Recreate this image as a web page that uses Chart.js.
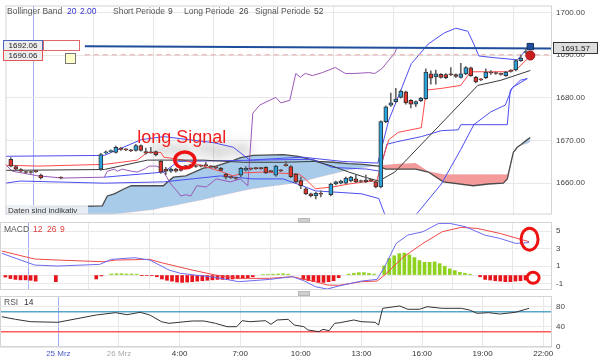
<!DOCTYPE html>
<html>
<head>
<meta charset="utf-8">
<script src="https://cdn.jsdelivr.net/npm/chart.js@4.4.0/dist/chart.umd.min.js"></script>
<style>
body { margin: 0; background: #fff; }
#wrap { position: relative; width: 600px; height: 360px; overflow: hidden; }
canvas { position: absolute; left: 0; }
.grip { position: absolute; left: 298px; width: 10px; height: 3px; background: #cfcfcf; border: 1px solid #b8b8b8; }
</style>
</head>
<body>
<div id="wrap">
  <canvas id="priceChart" width="600" height="220" style="top:0"></canvas>
  <canvas id="macdChart" width="600" height="76" style="top:218px"></canvas>
  <canvas id="rsiChart" width="600" height="68" style="top:292px"></canvas>
  <div class="grip" style="top:218px"></div>
  <div class="grip" style="top:291px"></div>
</div>
<script>
Chart.defaults.font.family = '"Liberation Sans", Arial, sans-serif';
Chart.defaults.animation = false;

// x axis: position in 15-minute bars
const xMin = 0.44, xMax = 109.74;
const tickPos = [12, 24, 36, 48, 60, 72, 84, 96, 108];
const tickLabels = ['25 Mrz', '26 Mrz', '4:00', '7:00', '10:00', '13:00', '16:00', '19:00', '22:00'];
const tickColors = ['#4a5cc8', '#aaaaaa', '#333', '#333', '#333', '#333', '#333', '#333', '#333'];

// candles
const candleIdx = [1,2,3,4,5,6,7,11,19,20,21,22,23,24,25,26,27,28,29,30,31,32,33,34,35,36,37,38,39,40,41,42,43,44,45,46,47,48,49,50,51,52,53,54,55,56,57,58,59,60,61,62,63,65,66,67,68,69,70,71,72,73,74,75,76,77,78,79,80,81,82,83,84,85,86,87,88,89,90,91,92,93,94,95,96,97,98,99,100,101,102,103,104];
const openV  = [1665.6,1663.9,1663.2,1662.7,1662.6,1662.8,1661.9,1661.3,1663.3,1667.1,1667.4,1667.2,1668.2,1667.9,1667.7,1667.7,1668.8,1667.4,1667.2,1667.4,1665.1,1663.3,1662.8,1663.3,1663.1,1664.0,1664.2,1664.0,1664.1,1664.2,1663.9,1663.7,1663.5,1662.1,1661.4,1661.2,1661.9,1663.05,1663.4,1663.5,1663.5,1663.7,1662.8,1661.9,1663.0,1664.2,1663.9,1662.1,1660.6,1658.7,1657.5,1657.0,1657.5,1657.3,1659.8,1660.0,1660.0,1660.5,1661.0,1660.5,1660.7,1660.7,1660.3,1659.1,1674.4,1678.3,1679.1,1680.1,1681.4,1679.4,1678.5,1679.3,1679.8,1685.6,1684.9,1685.5,1685.45,1685.5,1685.45,1684.8,1685.6,1687.0,1684.8,1684.3,1684.7,1685.9,1685.8,1685.6,1685.2,1686.3,1686.5,1688.7,1690.6];
const closeV = [1664.0,1663.3,1662.8,1662.5,1662.5,1662.7,1661.2,1661.2,1666.7,1667.3,1667.5,1668.4,1667.9,1667.8,1667.6,1668.8,1667.7,1667.0,1667.1,1666.7,1662.6,1662.8,1663.3,1662.8,1663.0,1663.9,1664.1,1663.9,1664.0,1664.1,1663.8,1663.6,1663.0,1661.4,1661.3,1661.1,1663.5,1663.5,1663.3,1663.4,1663.4,1662.4,1662.7,1664.0,1662.9,1664.1,1661.5,1660.3,1659.4,1657.5,1657.0,1657.7,1657.4,1659.8,1660.3,1660.5,1661.2,1661.4,1660.3,1660.4,1660.3,1660.6,1659.1,1674.4,1677.9,1678.8,1679.7,1681.6,1678.8,1678.5,1679.1,1679.9,1686.0,1684.6,1685.6,1684.8,1684.7,1685.4,1685.0,1685.6,1687.1,1685.2,1683.7,1684.2,1686.0,1685.8,1685.7,1685.5,1686.0,1686.2,1688.7,1689.3,1690.7];
const highV  = [1666.0,1664.2,1663.4,1662.9,1662.8,1663.0,1662.1,1661.5,1667.0,1667.6,1667.8,1668.7,1668.4,1668.1,1667.9,1669.1,1669.0,1668.2,1668.4,1667.6,1665.4,1663.7,1663.6,1663.5,1663.3,1664.2,1664.4,1664.3,1664.3,1664.9,1664.1,1663.9,1663.7,1662.3,1661.7,1661.4,1663.7,1663.9,1663.6,1663.7,1663.7,1663.9,1663.0,1664.2,1663.2,1665.1,1664.1,1662.3,1661.4,1659.0,1657.7,1657.9,1658.2,1660.0,1660.5,1660.7,1661.4,1661.6,1661.9,1660.7,1661.9,1660.9,1660.5,1674.6,1678.1,1681.1,1682.2,1681.8,1681.6,1679.6,1679.3,1680.1,1686.8,1686.3,1686.5,1685.7,1685.7,1687.1,1685.6,1688.1,1687.3,1687.2,1685.0,1684.5,1686.8,1686.4,1686.0,1685.8,1686.2,1686.6,1688.9,1690.0,1691.4];
const lowV   = [1663.8,1663.0,1662.6,1662.3,1662.3,1662.5,1661.0,1661.0,1663.0,1666.9,1667.2,1667.0,1667.7,1667.6,1667.4,1667.5,1667.5,1666.8,1667.0,1666.4,1662.3,1662.0,1662.5,1662.6,1662.8,1663.8,1664.0,1663.7,1663.8,1664.0,1663.6,1663.4,1662.9,1661.0,1661.1,1660.9,1661.5,1662.8,1663.1,1663.2,1663.2,1662.2,1662.5,1661.6,1662.7,1664.0,1661.3,1660.0,1658.7,1657.3,1656.8,1656.3,1656.8,1657.0,1659.6,1659.8,1659.8,1660.3,1660.1,1660.2,1660.1,1660.4,1658.9,1658.9,1674.2,1678.0,1678.9,1679.9,1678.5,1677.6,1677.9,1679.1,1679.6,1683.2,1683.2,1684.6,1684.5,1685.2,1684.8,1684.6,1685.4,1685.0,1683.5,1684.0,1684.5,1685.5,1685.5,1685.3,1685.0,1686.0,1686.3,1688.5,1690.4];

// Bollinger band 20 / 2.00
const upperX = [0.4,20.2,27.6,32.1,42.0,46.0,49.3,59.8,67.8,74.9,77.1,78.7,81.6,85.0,88.2,90.5,92.9,94.1,95.1,98.1,102.8,104.4];
const upperV = [1666.3,1666.5,1670.2,1670.9,1669.5,1668.4,1665.4,1666.1,1665.1,1664.7,1674.8,1679.4,1688.0,1692.6,1695.2,1696.3,1695.6,1692.6,1689.8,1689.4,1688.9,1691.0];
const lowerX = [0.4,3.4,20.2,32.1,43.4,49.9,55.9,59.8,62.4,71.7,75.1,76.3,78.5,80.5,82.6,87.6,91.5,94.1,97.5,100.4,101.8,104.8];
const lowerV = [1660.0,1660.5,1660.0,1660.3,1661.7,1661.0,1661.0,1659.4,1658.2,1657.5,1656.4,1652.7,1646.0,1646.5,1652.7,1659.8,1667.9,1673.7,1676.7,1678.3,1682.4,1684.5];
const stepX = [20.2,32.1,35.0,61.8,65.8,72.7,75.3,76.7,78.7,83.6,87.6,91.0,91.5,100.8,101.4,103.4,104.8];
const stepV = [1661.4,1662.6,1665.1,1665.6,1663.7,1663.3,1662.8,1669.1,1669.7,1670.9,1672.3,1672.5,1673.7,1673.7,1681.8,1684.1,1684.5];

// Ichimoku lines (short 9, long 26, signal 52)
const tenkanX = [0.4,7.0,20.2,23.6,26.8,28.8,31.5,32.1,36.1,40.0,43.4,46.0,48.0,51.9,59.2,60.4,62.4,65.8,69.1,72.3,74.7,75.7,77.1,79.0,83.6,84.6,87.6,91.5,92.9,93.5,100.8,102.8,104.8];
const tenkanV = [1664.2,1664.0,1664.4,1664.9,1665.4,1667.2,1667.2,1666.1,1665.4,1664.0,1662.8,1661.7,1662.4,1662.6,1662.1,1661.0,1658.7,1659.1,1659.8,1660.3,1660.5,1664.9,1670.2,1671.9,1673.0,1681.8,1682.2,1682.9,1685.2,1686.1,1686.1,1686.8,1689.1];
const kijunX = [0.4,20.2,28.8,40.0,48.0,55.9,62.4,65.8,69.1,72.3,75.1,78.3,94.9,99.5,105.4];
const kijunV = [1663.0,1663.2,1665.4,1665.4,1664.9,1664.9,1665.1,1664.0,1662.6,1661.4,1660.5,1662.6,1682.9,1684.1,1686.4];
const lagX = [0.4,1.8,7.0,11.9,20.2,20.8,22.2,22.8,23.8,25.6,26.8,28.2,29.2,30.7,31.7,32.7,33.5,34.7,35.5,36.5,37.5,38.7,40.6,42.6,45.4,47.4,48.9,49.3,49.9,51.3,54.5,55.5,57.3,58.5,59.4,60.4,61.8,63.8,66.4,68.4,70.3,73.1,74.3,75.7,78.3,78.7];
const lagV = [1664.4,1662.8,1661.7,1661.2,1661.4,1662.8,1663.3,1662.8,1663.3,1662.8,1662.6,1663.3,1664.0,1664.0,1663.3,1661.4,1659.8,1658.2,1657.0,1657.3,1657.0,1659.4,1659.1,1661.0,1660.3,1661.0,1659.4,1666.3,1676.4,1678.3,1680.1,1678.8,1679.4,1685.7,1684.8,1685.7,1685.2,1685.9,1687.1,1685.7,1685.7,1685.9,1685.7,1686.8,1690.5,1691.7];
const cloudX = [5.5,19.8,20.8,22.2,24.2,25.6,30,32,34,36.5,40,42.5,45.5,47.5,50,56,59,63,66,69,72,75,76.5,79.5,82.5,85,88,94,97,100,100.8,102,102.8,103.5,104.8,105.4];
const spanA = [1654.3,1654.7,1657.0,1657.5,1658.7,1659.4,1659.4,1659.4,1661.4,1661.7,1663.5,1664.0,1665.1,1666.0,1666.5,1666.7,1666.3,1665.1,1664.9,1664.6,1664.4,1664.0,1663.3,1663.3,1663.3,1662.6,1660.3,1659.4,1659.8,1660.0,1661.0,1667.2,1668.4,1669.0,1670.2,1670.7];
const spanB = [1650.0,1651.3,1651.8,1652.7,1653.0,1653.2,1653.8,1654.3,1654.7,1655.3,1656.1,1656.8,1657.6,1658.1,1658.7,1659.6,1660.1,1661.3,1662.2,1663.0,1663.6,1664.1,1664.3,1664.6,1664.7,1662.8,1662.1,1662.1,1662.1,1662.1,1662.1,1667.4,1668.5,1668.8,1669.3,1669.7];

// price levels
const trendX = [16.3, xMax];
const trendV = [1692.06, 1691.57];
const levelX = [16.3, xMax];
const levelV = [1690.06, 1690.06];
const lastX = 105.4, lastTop = 1692.0, lastBottom = 1689.9;
const signalText = [26.8, 1669.3];
const signalRing = [36.3, 1665.4];

// MACD 12 26 9
const macdX = [0.8,7.3,11.9,20.2,22.5,27.1,30.1,33.9,36.2,43.1,47.7,53.8,58.3,60.6,62.9,65.2,67.5,72.0,75.1,76.6,78.9,81.2,84.2,87.3,89.5,92.6,96.4,99.4,102.5,105.2];
const macdV = [2.48,1.14,1.03,1.22,1.79,1.98,1.71,0.57,0.19,-0.27,-0.76,-0.5,-0.19,-0.65,-1.33,-1.6,-1.26,-0.69,-0.5,0.95,3.62,4.57,4.95,5.9,5.9,5.52,4.57,4.19,3.62,3.7];
const sigX = [0.8,7.3,11.9,21.0,23.3,30.1,32.4,38.5,43.1,47.7,53.8,58.3,62.9,65.2,67.5,72.0,75.1,76.6,80.4,84.2,88.0,91.8,94.9,99.4,105.2];
const sigV = [2.74,1.83,1.71,1.52,1.71,1.79,1.41,0.57,0,-0.38,-0.38,-0.19,-0.76,-1.14,-1.18,-0.76,-0.69,0,2.1,3.62,4.95,5.45,5.33,4.76,3.81];
const histIdx = [1,2,3,4,5,6,7,11,19,20,22,23,24,25,26,27,28,29,30,31,32,33,34,35,36,37,38,39,40,41,42,43,44,45,46,47,48,49,50,52,53,54,55,56,57,60,61,62,63,64,65,66,67,69,70,71,72,73,74,76,77,78,79,80,81,82,83,84,85,86,87,88,89,90,91,92,93,95,96,97,98,99,100,101,102,103,104];
const histV = [-0.23,-0.4,-0.5,-0.55,-0.55,-0.6,-0.7,-0.76,-0.45,-0.1,0.12,0.15,0.15,0.12,0.12,0.1,-0.04,-0.05,-0.08,-0.2,-0.45,-0.6,-0.7,-0.8,-0.84,-0.8,-0.76,-0.7,-0.65,-0.6,-0.55,-0.5,-0.5,-0.5,-0.45,-0.4,-0.35,-0.3,-0.2,0.05,0.08,0.1,0.12,0.15,0.1,-0.5,-0.65,-0.76,-0.84,-0.84,-0.76,-0.65,-0.3,0.11,0.19,0.27,0.27,0.19,0.11,1.05,1.9,2.2,2.45,2.5,2.3,2.0,1.65,1.45,1.45,1.5,1.3,1.0,0.7,0.5,0.3,0.2,0.1,-0.2,-0.5,-0.57,-0.65,-0.69,-0.76,-0.76,-0.69,-0.65,-0.57];
const macdRing = [105.3, 4.1];
const histRing = [106.0, -0.3];

// RSI 14
const rsiX = [0.8,3.5,6.5,11.9,19.5,23.3,25.6,28.2,30.1,32.4,33.9,35.9,38.5,40.8,43.1,45.4,47.3,48.4,49.9,53.0,54.1,55.3,57.5,58.7,60.6,61.4,63.6,64.4,65.6,66.7,67.8,70.5,72.0,74.7,75.4,76.2,79.6,81.2,83.5,85.0,88.0,91.8,93.4,94.9,97.2,99.4,102.5,105.2];
const rsiV = [60,54.8,50.1,48.9,63.4,68,64,68.7,63.4,50.1,46.9,48.9,51.5,51.5,46.9,40.2,40.2,52.1,50.1,52.1,44.9,53.5,54.8,43.6,40.2,33.7,30.3,35,32.3,46.9,48.2,53.5,50.1,48.9,43.6,76.6,81.2,74.7,74.7,79.8,76.6,76.6,73.3,66.7,68,65.3,68.7,76.6];
const rsiHigh = 70, rsiLow = 30;

const pts = (xs, ys) => xs.map((v, i) => ({x: v, y: ys[i]}));

function line(xs, ys, color, order, extra) {
  return Object.assign({
    type: 'line', data: pts(xs, ys), borderColor: color, borderWidth: 1,
    pointRadius: 0, tension: 0, fill: false, order: order
  }, extra || {});
}

function xScale(showLabels) {
  return {
    type: 'linear', min: xMin, max: xMax, offset: false,
    afterBuildTicks: s => { s.ticks = tickPos.map(v => ({value: v})); },
    afterFit: s => { s.paddingLeft = 0; s.paddingRight = 0; s.height = showLabels ? 13 : 0; },
    grid: { color: c => (c.tick && c.tick.value === 12) ? '#a3aef0' : '#e8e8e8', drawTicks: false },
    border: { display: false },
    ticks: {
      display: showLabels, padding: 2, autoSkip: false, maxRotation: 0,
      font: { size: 8 }, color: c => tickColors[c.index],
      callback: (v, i) => tickLabels[i]
    }
  };
}

function yScale(min, max, ticks, fmt) {
  return {
    position: 'right', min: min, max: max,
    afterBuildTicks: s => { s.ticks = ticks.map(v => ({value: v})); },
    afterFit: s => { s.width = 48; s.paddingTop = 0; s.paddingBottom = 0; },
    grid: { color: '#e8e8e8', drawTicks: false },
    border: { display: false },
    ticks: { padding: 4, font: { size: 8 }, color: '#444', callback: fmt }
  };
}

function header(ctx, y, parts) {
  ctx.save();
  ctx.font = '8.5px "Liberation Sans", Arial, sans-serif';
  ctx.textBaseline = 'middle';
  parts.forEach(p => { ctx.fillStyle = p[2]; ctx.fillText(p[0], p[1], y); });
  ctx.restore();
}

const frame = {
  id: 'frame',
  afterDraw(chart) {
    const {ctx, chartArea: a} = chart;
    ctx.save();
    ctx.strokeStyle = '#d4d4d4';
    ctx.strokeRect(a.left + 0.5, a.top + 0.5, a.right - a.left - 1, a.bottom - a.top - 1);
    ctx.restore();
  }
};

const ring = (ctx, cx, cy, rx, ry, w) => {
  ctx.save();
  ctx.strokeStyle = '#ee1111';
  ctx.lineWidth = w;
  ctx.beginPath();
  ctx.ellipse(cx, cy, rx, ry, 0, 0, Math.PI * 2);
  ctx.stroke();
  ctx.restore();
};

const box = (ctx, x, y, w, h, fill, stroke, text) => {
  ctx.save();
  ctx.fillStyle = fill;
  ctx.fillRect(x, y, w, h);
  ctx.strokeStyle = stroke;
  ctx.strokeRect(x + 0.5, y + 0.5, w - 1, h - 1);
  if (text) {
    ctx.fillStyle = '#222';
    ctx.font = '8px "Liberation Sans", Arial, sans-serif';
    ctx.textBaseline = 'middle';
    ctx.textAlign = 'center';
    ctx.fillText(text, x + w / 2, y + h / 2 + 0.5);
  }
  ctx.restore();
};

// price panel extras
const priceExtras = {
  id: 'priceExtras',
  beforeDatasetsDraw(chart) {
    const {ctx, scales: {x, y}} = chart;
    ctx.save();
    ctx.filter = 'blur(6px)';
    ctx.fillStyle = 'rgba(0,0,0,0.35)';
    ctx.font = 'bold 18px "Liberation Sans", Arial, sans-serif';
    ctx.fillText('long Signal', x.getPixelForValue(signalText[0]) + 16, y.getPixelForValue(signalText[1]) + 12);
    ctx.restore();
  },
  afterDatasetsDraw(chart) {
    const {ctx, scales: {x, y}} = chart;
    ctx.save();
    ctx.fillStyle = '#f21d1d';
    ctx.font = '18px "Liberation Sans", Arial, sans-serif';
    ctx.fillText('long Signal', x.getPixelForValue(signalText[0]), y.getPixelForValue(signalText[1]));
    ctx.restore();
    ring(ctx, x.getPixelForValue(signalRing[0]), y.getPixelForValue(signalRing[1]), 10, 8, 3.5);

    // note box
    ctx.save();
    ctx.fillStyle = 'rgba(236,240,245,0.92)';
    ctx.fillRect(5, 205, 83, 10);
    ctx.fillStyle = '#333';
    ctx.font = '8px "Liberation Sans", Arial, sans-serif';
    ctx.textBaseline = 'middle';
    ctx.fillText('Daten sind indikativ', 8, 210.5);
    ctx.restore();
  },
  afterDraw(chart) {
    const {ctx, scales: {y}} = chart;
    header(ctx, 12, [
      ['Bollinger Band', 7, '#555'], ['20', 67, '#3636d0'], ['2.00', 80, '#3636d0'],
      ['Short Periode', 113, '#555'], ['9', 168, '#444'],
      ['Long Periode', 184, '#555'], ['26', 239, '#444'],
      ['Signal Periode', 255, '#555'], ['52', 314, '#444']
    ]);
    const yT = y.getPixelForValue(trendV[0]);
    const yL = y.getPixelForValue(levelV[0]);
    box(ctx, 3, Math.round(yT) - 6, 40, 11, '#eeeeee', '#4a64c0', trendV[0].toFixed(2));
    box(ctx, 43, Math.round(yT) - 6, 37, 11, '#ffffff', '#e06a6a');
    box(ctx, 3, Math.round(yL) - 5, 40, 11, '#eeeeee', '#e05555', levelV[0].toFixed(2));
    box(ctx, 65, Math.round(yL) - 2, 11, 11, '#ffffcc', '#777');
    const yR = y.getPixelForValue(trendV[1]);
    box(ctx, 553, Math.round(yR) - 6, 45, 12, '#dddddd', '#333', trendV[1].toFixed(2));
  }
};

const macdExtras = {
  id: 'macdExtras',
  afterDatasetsDraw(chart) {
    const {ctx, scales: {x, y}} = chart;
    ring(ctx, x.getPixelForValue(macdRing[0]), y.getPixelForValue(macdRing[1]), 8.5, 11, 3);
    ring(ctx, x.getPixelForValue(histRing[0]), y.getPixelForValue(histRing[1]), 6, 5.5, 3);
  },
  afterDraw(chart) {
    header(chart.ctx, 12, [['MACD', 4, '#555'], ['12', 33, '#e03c3c'], ['26', 47, '#e03c3c'], ['9', 60, '#e03c3c']]);
  }
};

const rsiExtras = {
  id: 'rsiExtras',
  afterDraw(chart) {
    header(chart.ctx, 11, [['RSI', 4, '#555'], ['14', 24, '#333']]);
  }
};

const noUi = { legend: { display: false }, tooltip: { enabled: false } };

// price panel
const wickData = candleIdx.map((k, i) => ({x: k + 0.5, y: [lowV[i], highV[i]]}));
const bodyData = candleIdx.map((k, i) => ({x: k + 0.5, y: [openV[i], closeV[i]]}));
const bodyColors = candleIdx.map((k, i) => closeV[i] >= openV[i] ? '#2aa2de' : '#e2352e');

new Chart(document.getElementById('priceChart'), {
  type: 'bar',
  data: {
    datasets: [
      line(cloudX, spanA, '#4a4a4a', 10, { borderWidth: 1.3, fill: { target: '+1', above: '#a7cbe8', below: '#f49a9a' } }),
      line(cloudX, spanB, 'rgba(0,0,0,0)', 11),
      line(lagX, lagV, '#9b59b6', 7),
      line(upperX, upperV, '#4d4df2', 6),
      line(lowerX, lowerV, '#4d4df2', 6),
      line(stepX, stepV, '#4d4df2', 6),
      line(kijunX, kijunV, '#3a3a3a', 5),
      line(tenkanX, tenkanV, '#ff4a4a', 5),
      line(trendX, trendV, '#1f4f9c', 3, { borderWidth: 2 }),
      line(levelX, levelV, '#e6a3a3', 3, { borderDash: [5, 4] }),
      { type: 'bar', data: wickData, backgroundColor: '#666', barThickness: 1, grouped: false, order: 2 },
      { type: 'bar', data: bodyData, backgroundColor: bodyColors, borderColor: '#333', borderWidth: 1,
        borderSkipped: false, barThickness: 4, minBarLength: 1, grouped: false, order: 1 },
      line([lastX], [lastTop], '#10305f', 0, { showLine: false, pointRadius: 4.5, pointStyle: 'rect', pointBackgroundColor: '#1f4f9c', pointBorderColor: '#10305f' }),
      line([lastX], [lastBottom], '#c81e1e', 0, { showLine: false, pointRadius: 4.5, pointBackgroundColor: '#c81e1e', pointBorderColor: '#a01010' })
    ]
  },
  options: {
    responsive: false, devicePixelRatio: 1,
    layout: { padding: { top: 4, bottom: 4, left: 0, right: 0 } },
    plugins: noUi,
    scales: {
      x: xScale(false),
      y: yScale(1652.66, 1701.62, [1660, 1670, 1680, 1690, 1700], v => v.toFixed(2))
    }
  },
  plugins: [frame, priceExtras]
});

// MACD panel
new Chart(document.getElementById('macdChart'), {
  type: 'bar',
  data: {
    datasets: [
      { type: 'bar', data: histIdx.map((k, i) => ({x: k + 0.5, y: histV[i]})),
        backgroundColor: histV.map(v => v >= 0 ? '#8fd11f' : '#e8141c'), barThickness: 3, grouped: false, order: 3 },
      line(sigX, sigV, '#f04848', 2),
      line(macdX, macdV, '#6b6bf0', 1)
    ]
  },
  options: {
    responsive: false, devicePixelRatio: 1,
    layout: { padding: { top: 4, bottom: 4, left: 0, right: 0 } },
    plugins: noUi,
    scales: {
      x: xScale(false),
      y: yScale(-1.71, 6.06, [-1, 0, 1, 3, 5], v => v === 0 ? '' : String(v))
    }
  },
  plugins: [frame, macdExtras]
});

// RSI panel
new Chart(document.getElementById('rsiChart'), {
  type: 'line',
  data: {
    datasets: [
      line(rsiX, rsiV, '#333', 1),
      line([xMin, xMax], [rsiHigh, rsiHigh], '#5aa5c8', 2, { borderWidth: 1.5 }),
      line([xMin, xMax], [rsiLow, rsiLow], '#ff5a5a', 2, { borderWidth: 1.5 })
    ]
  },
  options: {
    responsive: false, devicePixelRatio: 1,
    layout: { padding: { top: 4, bottom: 0, left: 0, right: 0 } },
    plugins: noUi,
    scales: {
      x: xScale(true),
      y: yScale(0, 101, [0, 40, 80], v => String(v))
    }
  },
  plugins: [frame, rsiExtras]
});
</script>
</body>
</html>
